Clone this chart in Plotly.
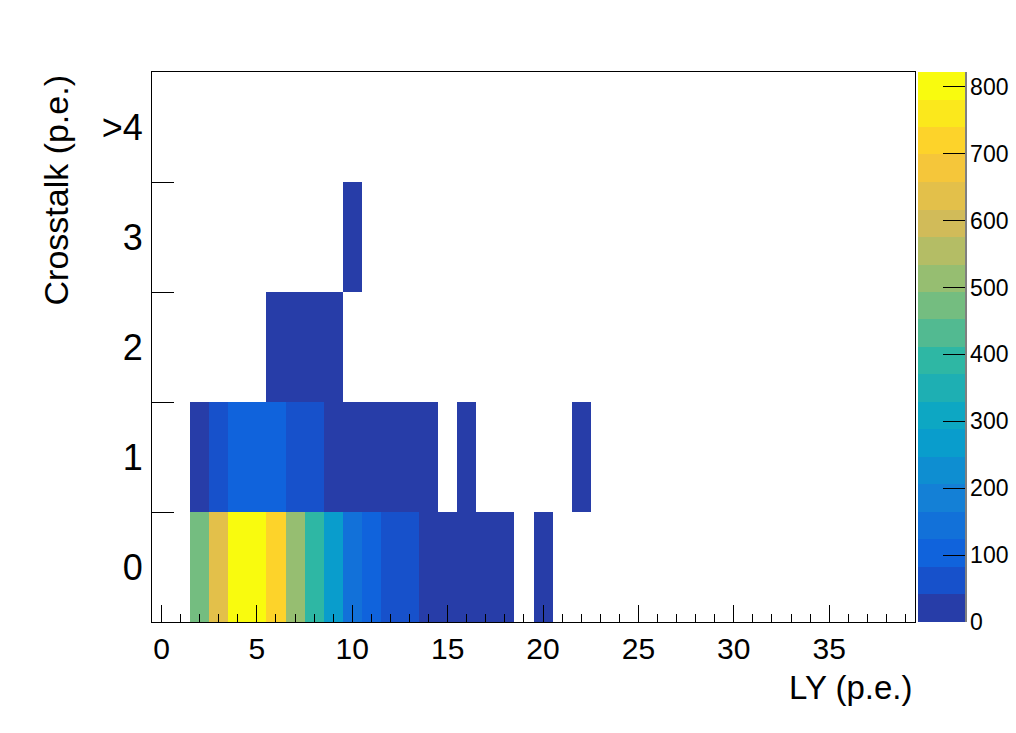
import plotly.graph_objects as go

# ---------------- data ----------------
ly_centers = list(range(40))                 # LY bin centres (p.e.), bins of width 1
xt_centers = [0, 1, 2, 3, 4]                 # crosstalk bin centres
xt_labels = ["0", "1", "2", "3", ">4"]

row0_bins = [2, 3, 4, 5, 6, 7, 8, 9, 10, 11, 12, 13, 14, 15, 16, 17, 18, 20]
row0_counts = [470, 640, 822, 795, 720, 515, 390, 268, 145, 100, 62, 58, 30, 22, 15, 9, 4, 1]

row1_bins = [2, 3, 4, 5, 6, 7, 8, 9, 10, 11, 12, 13, 14, 16, 22]
row1_counts = [25, 60, 105, 110, 95, 68, 52, 35, 28, 20, 12, 7, 3, 1, 1]

row2_bins = [6, 7, 8, 9]
row2_counts = [8, 10, 6, 3]

row3_bins = [10]
row3_counts = [1]

row4_bins = []
row4_counts = []

z_max = 822
n_levels = 20
cbar_ticks = [0, 100, 200, 300, 400, 500, 600, 700, 800]

# ---------------- build matrix ----------------
rows = [(row0_bins, row0_counts), (row1_bins, row1_counts), (row2_bins, row2_counts),
        (row3_bins, row3_counts), (row4_bins, row4_counts)]
z = []
for bins, counts in rows:
    r = [None] * len(ly_centers)
    for b, c in zip(bins, counts):
        r[ly_centers.index(b)] = c
    z.append(r)

# ---------------- ROOT kBird palette, 20 contour levels ----------------
stops = [0.0, 0.125, 0.25, 0.375, 0.5, 0.625, 0.75, 0.875, 1.0]
red = [0.2082, 0.0592, 0.0780, 0.0232, 0.1802, 0.5301, 0.8186, 0.9956, 0.9764]
green = [0.1664, 0.3599, 0.5041, 0.6419, 0.7178, 0.7492, 0.7328, 0.7862, 0.9832]
blue = [0.5293, 0.8684, 0.8385, 0.7914, 0.6425, 0.4662, 0.3499, 0.1968, 0.0539]


def bird(p):
    for k in range(len(stops) - 1):
        if stops[k] <= p <= stops[k + 1]:
            t = (p - stops[k]) / (stops[k + 1] - stops[k])
            rr = red[k] + t * (red[k + 1] - red[k])
            gg = green[k] + t * (green[k + 1] - green[k])
            bb = blue[k] + t * (blue[k + 1] - blue[k])
            return "rgb(%d,%d,%d)" % (round(rr * 255), round(gg * 255), round(bb * 255))
    return "rgb(249,251,14)"


colorscale = []
for i in range(n_levels):
    idx = int((i + 0.99) * 255 / n_levels)
    c = bird(min(idx, 254) / 254)
    colorscale.append([i / n_levels, c])
    colorscale.append([(i + 1) / n_levels, c])

FONT = "Liberation Sans, Arial, Helvetica, sans-serif"

fig = go.Figure()
fig.add_trace(go.Heatmap(
    x=ly_centers, y=xt_centers, z=z,
    zmin=0, zmax=z_max, zsmooth=False,
    colorscale=colorscale, hoverongaps=False,
    colorbar=dict(
        x=1.0039, xanchor="left", xpad=0, ypad=0,
        y=0.5, yanchor="middle", len=1, lenmode="fraction",
        thickness=47, outlinewidth=0,
        tickmode="array", tickvals=cbar_ticks,
        ticks="inside", ticklen=22, tickwidth=1, tickcolor="black",
        tickfont=dict(family=FONT, size=23, color="black"),
    ),
))

fig.update_layout(
    width=1016, height=733,
    margin=dict(l=152, r=101, t=72, b=111, autoexpand=False),
    paper_bgcolor="white", plot_bgcolor="white",
    font=dict(family=FONT, color="black"),
    xaxis=dict(
        range=[-0.5, 39.5], showgrid=False, zeroline=False,
        showline=True, linecolor="black", linewidth=1, mirror=True,
        tickmode="linear", tick0=0, dtick=5,
        ticks="inside", ticklen=17, tickwidth=1, tickcolor="black",
        minor=dict(tickmode="linear", tick0=0, dtick=1, ticks="inside",
                   ticklen=8, tickwidth=1, tickcolor="black", showgrid=False),
        tickfont=dict(family=FONT, size=30, color="black"),
        ticklabelstandoff=0,
    ),
    yaxis=dict(
        range=[-0.5, 4.5], showgrid=False, zeroline=False,
        showline=True, linecolor="black", linewidth=1, mirror=True,
        tickmode="array", tickvals=xt_centers, ticktext=xt_labels,
        ticks="",
        minor=dict(tickmode="array", tickvals=[0.5, 1.5, 2.5, 3.5], ticks="inside",
                   ticklen=22, tickwidth=1, tickcolor="black", showgrid=False),
        tickfont=dict(family=FONT, size=36, color="black"),
        ticklabelstandoff=1,
    ),
    shapes=[dict(type="line", xref="paper", yref="paper",
                 x0=(966 - 152) / 763, x1=(966 - 152) / 763, y0=0, y1=1,
                 line=dict(color="black", width=1))],
    annotations=[
        dict(text="LY (p.e.)", xref="paper", yref="paper", x=1, y=(622 - 687) / 550,
             xanchor="right", yanchor="middle", showarrow=False,
             font=dict(family=FONT, size=33, color="black")),
        dict(text="Crosstalk (p.e.)", xref="paper", yref="paper", x=(55 - 152) / 763, y=1,
             xanchor="center", yanchor="top", textangle=-90, showarrow=False,
             font=dict(family=FONT, size=34, color="black")),
    ],
)

fig.write_html("out.html", config={"displayModeBar": False},
               post_script="document.body.style.margin='0';")
